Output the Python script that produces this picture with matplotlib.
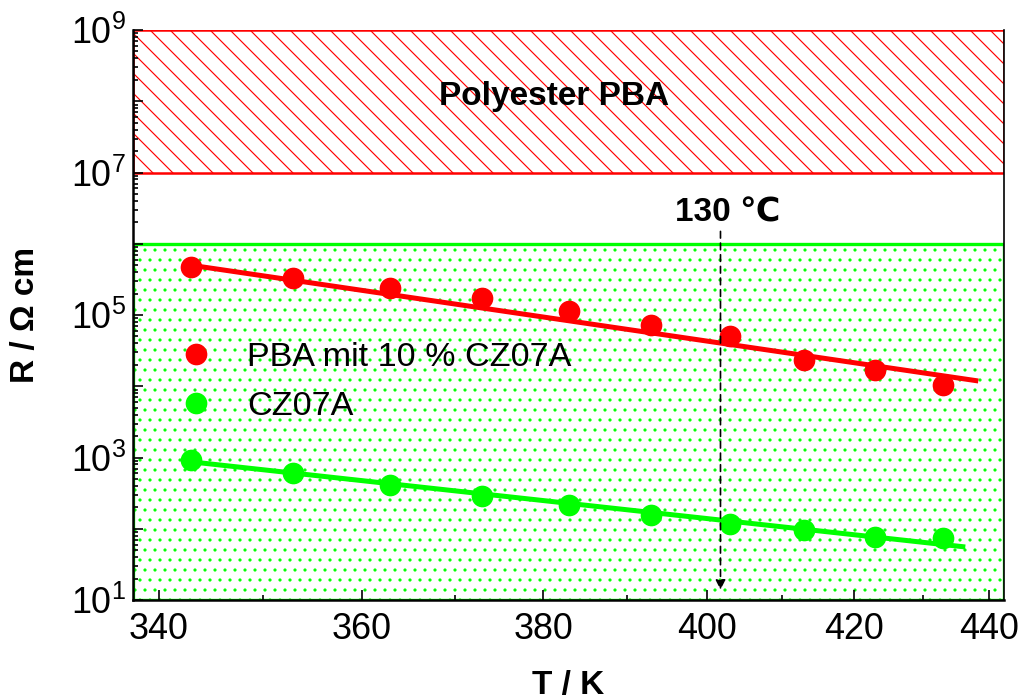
import numpy as np
import matplotlib
matplotlib.use("Agg")
import matplotlib.pyplot as plt
from matplotlib.patches import Rectangle

plt.rcParams["font.family"] = ["Liberation Sans", "DejaVu Sans"]
plt.rcParams["mathtext.fontset"] = "custom"
plt.rcParams["mathtext.rm"] = "Liberation Sans"
plt.rcParams["hatch.linewidth"] = 0.7

# temperatures (K) and resistivities (Ohm cm)
temps = [343, 353, 363, 373, 383, 393, 403, 413, 423, 433]
r_pba = [4.7e5, 3.3e5, 2.4e5, 1.75e5, 1.14e5, 7.2e4, 5.1e4, 2.35e4, 1.7e4, 1.05e4]
r_cz = [920, 605, 410, 288, 215, 156, 117, 96, 77, 74]

# fitted lines (end points)
fit_t = [343, 438]
fit_pba = [5.0e5, 1.2e4]
fit_cz_t = [343, 436]
fit_cz = [870, 56]

# shaded ranges
pba_range = (1e7, 1e9)
cz_range = (1e1, 1e6)
t_130 = 401.8

red = "#ff0000"
green = "#00ff00"

fig = plt.figure(figsize=(8.5, 5.825), dpi=120)
ax = fig.add_axes([133 / 1020, 1 - 600 / 699, 871 / 1020, 570 / 699])


def fwd(t):
    t = np.asarray(t, dtype=float)
    with np.errstate(divide="ignore"):
        return -1.0 / t


def inv(x):
    x = np.asarray(x, dtype=float)
    with np.errstate(divide="ignore"):
        return -1.0 / x


# x axis is linear in 1/T
ax.set_xscale("function", functions=(fwd, inv))
ax.set_yscale("log")
ax.set_xlim(337.6, 442.4)
ax.set_ylim(1e1, 1e9)

x0, x1 = ax.get_xlim()
ax.add_patch(Rectangle((x0, pba_range[0]), x1 - x0, pba_range[1] - pba_range[0],
                       facecolor="white", edgecolor=red, hatch="\\\\", lw=1.5, zorder=1))
ax.add_patch(Rectangle((x0, cz_range[0]), x1 - x0, cz_range[1] - cz_range[0],
                       facecolor="white", edgecolor=green, hatch="..", lw=2, zorder=1))

ax.text(381.3, 10 ** 8.06, "Polyester PBA", fontsize=20, fontweight="bold",
        ha="center", va="center", zorder=3)

ax.plot(fit_t, fit_pba, color=red, lw=3, zorder=4)
ax.plot(fit_cz_t, fit_cz, color=green, lw=3, zorder=4)
ax.plot(temps, r_pba, "o", color=red, ms=12, zorder=5, label="PBA mit 10 % CZ07A")
ax.plot(temps, r_cz, "o", color=green, ms=12, zorder=5, label="CZ07A")

ax.annotate("", xy=(t_130, 12.5), xytext=(t_130, 10 ** 6.22),
            arrowprops=dict(arrowstyle="-|>", ls=(0, (4, 3)), lw=1.0, color="black",
                            mutation_scale=12), zorder=6)
ax.text(402.7, 10 ** 6.43, "130 \u2103", fontsize=20, fontweight="bold",
        ha="center", va="center", zorder=6)

ax.legend(loc="center left", bbox_to_anchor=(0.0528, 0.3825), frameon=False,
          fontsize=20.5, borderpad=0, borderaxespad=0, handlelength=1,
          handletextpad=1.0, labelspacing=0.5)

ax.set_xticks([340, 360, 380, 400, 420, 440])
ax.set_xticks([350, 370, 390, 410, 430], minor=True)
ax.set_xticklabels(["340", "360", "380", "400", "420", "440"])
ax.set_yticks([10.0 ** k for k in range(1, 10)])
ax.set_yticklabels([r"$\mathregular{10^{%d}}$" % k if k % 2 else "" for k in range(1, 10)])
ax.yaxis.set_minor_locator(matplotlib.ticker.LogLocator(base=10, subs=np.arange(2, 10), numticks=20))
ax.yaxis.set_minor_formatter(matplotlib.ticker.NullFormatter())

ax.tick_params(axis="both", which="both", direction="in", labelsize=21.5, width=1.0)
ax.tick_params(axis="both", which="major", length=6)
ax.tick_params(axis="both", which="minor", length=3)
ax.tick_params(axis="x", pad=7)
ax.tick_params(axis="y", pad=4)

ax.set_xlabel("T / K", fontsize=20, fontweight="bold", labelpad=14)
ax.set_ylabel("R / \u03a9 cm", fontsize=20, fontweight="bold", labelpad=18)

for s in ["left", "bottom"]:
    ax.spines[s].set_linewidth(1.5)
ax.spines["top"].set_visible(False)
ax.spines["right"].set_linewidth(1.0)

fig.savefig("out.png", dpi=120)
